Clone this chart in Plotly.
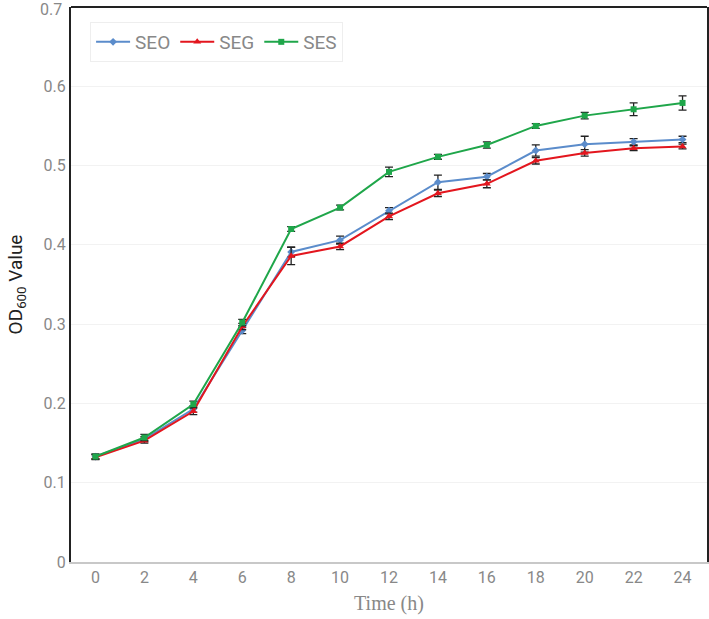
import plotly.graph_objects as go

time_labels = ["0", "2", "4", "6", "8", "10", "12", "14", "16", "18", "20", "22", "24"]
y_ticks = [0, 0.1, 0.2, 0.3, 0.4, 0.5, 0.6]
y_top = 0.7

seo = [0.133, 0.155, 0.193, 0.292, 0.391, 0.406, 0.443, 0.479, 0.486, 0.519, 0.527, 0.530, 0.533]
seo_err = [0.003, 0.003, 0.004, 0.004, 0.006, 0.005, 0.004, 0.009, 0.004, 0.007, 0.010, 0.004, 0.004]

seg = [0.132, 0.153, 0.190, 0.297, 0.386, 0.398, 0.436, 0.465, 0.477, 0.506, 0.516, 0.522, 0.524]
seg_err = [0.003, 0.003, 0.004, 0.004, 0.011, 0.004, 0.004, 0.004, 0.005, 0.004, 0.004, 0.003, 0.003]

ses = [0.133, 0.157, 0.199, 0.302, 0.420, 0.447, 0.492, 0.511, 0.526, 0.550, 0.563, 0.571, 0.579]
ses_err = [0.003, 0.004, 0.004, 0.004, 0.003, 0.003, 0.006, 0.003, 0.004, 0.003, 0.004, 0.008, 0.009]

series = [
    ("SEO", seo, seo_err, "#5B8CCB", "diamond", 6),
    ("SEG", seg, seg_err, "#E3161E", "triangle-up", 7),
    ("SES", ses, ses_err, "#1FA64A", "square", 6),
]

fig = go.Figure()
for name, vals, errs, color, sym, size in series:
    fig.add_trace(go.Scatter(
        x=time_labels, y=vals, name=name, mode="lines+markers",
        line=dict(color=color, width=2),
        marker=dict(symbol=sym, size=size, color=color),
        error_y=dict(type="data", array=errs, visible=True, color="#222222", thickness=1.3, width=4),
    ))

fig.update_layout(
    width=709, height=619,
    margin=dict(l=71, r=2, t=7, b=57),
    plot_bgcolor="white", paper_bgcolor="white",
    font=dict(family="Roboto, Liberation Sans, sans-serif", color="#888888", size=15),
    legend=dict(
        orientation="h", x=0.03, y=0.973, xanchor="left", yanchor="top",
        bgcolor="white", bordercolor="#EEEEEE", borderwidth=1,
        font=dict(family="Roboto, sans-serif", size=19, color="#888888"),
        itemwidth=34,
    ),
    xaxis=dict(
        type="category", range=[-0.5, 12.5], automargin=False,
        showgrid=False, showline=True, linecolor="#C8C8C8", linewidth=2,
        ticks="", tickfont=dict(size=16, color="#888888"),
        title=dict(text="Time (h)", font=dict(family="Liberation Serif, Times New Roman, serif", size=20, color="#888888"), standoff=10),
    ),
    yaxis=dict(
        range=[0, y_top], tickvals=y_ticks, ticktext=[f"{v:g}" for v in y_ticks], automargin=False,
        showgrid=True, gridcolor="#F2F2F2", gridwidth=1,
        showline=True, linecolor="#222222", linewidth=2, mirror=True,
        zeroline=False, ticks="", ticklen=0,
        tickfont=dict(size=16, color="#888888"),
        title=dict(text="OD<sub>600</sub> Value", font=dict(size=19, color="#222222"), standoff=16),
    ),
)
fig.add_annotation(x=0, xref="paper", y=y_top, yref="y", text=f"{y_top:g}", showarrow=False,
                   xanchor="right", yanchor="middle", xshift=-7, yshift=-2,
                   font=dict(size=16, color="#888888"))
fig.add_shape(type="line", xref="paper", yref="paper", x0=0, x1=1, y0=1, y1=1,
              line=dict(color="#222222", width=2))
fig.write_html("out.html", config={"displayModeBar": False},
               post_script="document.body.style.margin='0';")
